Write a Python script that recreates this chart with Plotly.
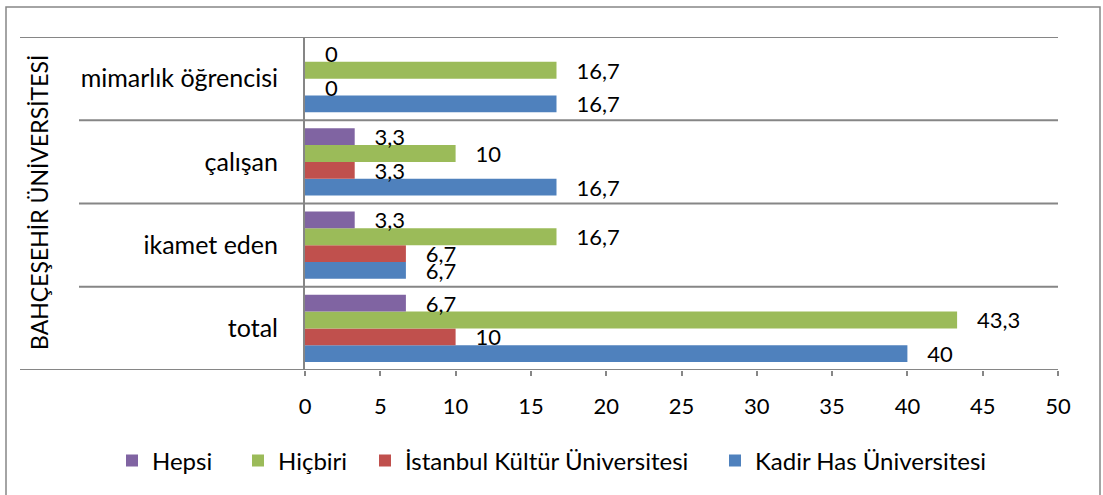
import plotly.graph_objects as go

categories = ["total", "ikamet eden", "çalışan", "mimarlık öğrencisi"]
outer_label = "BAHÇEŞEHİR ÜNİVERSİTESİ"

series_names = ["Kadir Has Üniversitesi", "İstanbul Kültür Üniversitesi", "Hiçbiri", "Hepsi"]
kadir_has = [40, 6.7, 16.7, 16.7]
istanbul_kultur = [10, 6.7, 3.3, 0]
hicbiri = [43.3, 16.7, 10, 16.7]
hepsi = [6.7, 3.3, 3.3, 0]
series_values = [kadir_has, istanbul_kultur, hicbiri, hepsi]
series_colors = ["#4F81BD", "#C0504D", "#9BBB59", "#8064A2"]

x_ticks = [0, 5, 10, 15, 20, 25, 30, 35, 40, 45, 50]

FONT = "Lato"
GRAY = "#868686"

W, H = 1103, 495
L, R, T, B = 305, 1058, 37, 370
pw, ph = R - L, B - T


def px(x):
    return (x - L) / pw


def py(y):
    return (B - y) / ph


def fmt(v):
    s = ("%g" % v).replace(".", ",")
    return "   " + s


# one legend per series, placed where the reference shows each entry
legend_ids = ["legend4", "legend3", "legend2", "legend"]
legend_text_x = [757, 407, 280, 154]

fig = go.Figure()
for name, vals, col, lid in zip(series_names, series_values, series_colors, legend_ids):
    fig.add_trace(go.Bar(
        y=categories, x=vals, name=name, orientation="h",
        marker=dict(color=col, line=dict(width=0)),
        text=[fmt(v) for v in vals], textposition="outside",
        constraintext="none",
        textfont=dict(family=FONT, size=22, color="black"),
        cliponaxis=False, legend=lid,
    ))

shapes = []
for i in range(len(categories) + 1):
    yv = i - 0.5
    x0 = px(20) if i in (0, len(categories)) else px(79)
    shapes.append(dict(type="line", xref="paper", yref="y", x0=x0, x1=1.0,
                       y0=yv, y1=yv, line=dict(color=GRAY, width=2)))
shapes.append(dict(type="rect", xref="paper", yref="paper",
                   x0=px(6), x1=px(1100), y0=py(500), y1=py(7),
                   line=dict(color=GRAY, width=1.5)))

legend_layout = {}
for lid, tx in zip(legend_ids, legend_text_x):
    legend_layout[lid] = dict(
        orientation="h", xref="paper", yref="paper",
        x=px(tx - 42), xanchor="left", y=py(461), yanchor="middle",
        bgcolor="rgba(0,0,0,0)",
        font=dict(family=FONT, size=24, color="black"))

fig.update_layout(
    width=W, height=H,
    margin=dict(l=L, r=W - R, t=T, b=H - B),
    paper_bgcolor="white", plot_bgcolor="white",
    barmode="group", bargap=0.19, bargroupgap=0,
    font=dict(family=FONT, size=20, color="black"),
    shapes=shapes,
    showlegend=True,
    annotations=[dict(text=outer_label, textangle=-90, xref="paper", yref="paper",
                      x=px(39), y=py(203), xanchor="center", yanchor="middle",
                      showarrow=False,
                      font=dict(family=FONT, size=23, color="black"))],
    **legend_layout,
)
fig.update_xaxes(range=[0, 50], tickvals=x_ticks, ticks="outside", ticklen=5,
                 tickcolor=GRAY, tickwidth=2, showgrid=False, zeroline=False,
                 showline=False, ticklabelstandoff=12, automargin=False,
                 tickfont=dict(family=FONT, size=22))
fig.update_yaxes(categoryorder="array", categoryarray=categories,
                 range=[-0.5, len(categories) - 0.5],
                 showline=True, linecolor=GRAY, linewidth=2, ticks="",
                 showgrid=False, zeroline=False, ticklabelstandoff=20,
                 automargin=False, tickfont=dict(family=FONT, size=25))

fig.write_html("out.html", config={"displayModeBar": False},
               post_script="document.body.style.margin='0';")
